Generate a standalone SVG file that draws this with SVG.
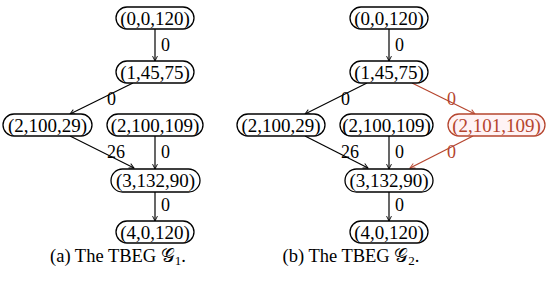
<svg xmlns="http://www.w3.org/2000/svg" width="550" height="281" viewBox="0 0 550 281">
<style>
text{font-family:"Liberation Serif","DejaVu Serif",serif;font-size:19px;fill:#000}
.n rect{fill:#fff;stroke:#000;stroke-width:1.3}
.n text{text-anchor:middle}
.r rect{fill:#fff3f5;stroke:#b5452e}
.r text{fill:#b5452e}
.e line{stroke:#000;stroke-width:1.2;marker-end:url(#ah)}
.e line.red{stroke:#b5452e;marker-end:url(#ahr)}
.lbl{font-size:18px}
.lbl.red{fill:#b5452e}
.cap{font-size:18.5px;text-anchor:middle}
</style>
<defs>
<marker id="ah" viewBox="0 0 10 10" refX="9" refY="5" markerWidth="7" markerHeight="7" orient="auto" markerUnits="userSpaceOnUse">
<path d="M2,1.5 L9,5 L2,8.5" fill="none" stroke="#000" stroke-width="1.3"/>
</marker>
<marker id="ahr" viewBox="0 0 10 10" refX="9" refY="5" markerWidth="7" markerHeight="7" orient="auto" markerUnits="userSpaceOnUse">
<path d="M2,1.5 L9,5 L2,8.5" fill="none" stroke="#b5452e" stroke-width="1.3"/>
</marker>
</defs>

<g id="connectors" class="e">
<line x1="155" y1="29" x2="155" y2="61"/>
<line x1="133" y1="83" x2="70" y2="114"/>
<line x1="70" y1="136" x2="134" y2="168"/>
<line x1="155" y1="136" x2="155" y2="169"/>
<line x1="155" y1="192" x2="155" y2="221"/>
<line x1="389" y1="29" x2="389" y2="61"/>
<line x1="367" y1="83" x2="305" y2="114"/>
<line class="red" x1="412" y1="83" x2="475" y2="114"/>
<line x1="305" y1="136" x2="368" y2="168"/>
<line x1="389" y1="136" x2="389" y2="169"/>
<line class="red" x1="473" y1="136" x2="410" y2="168"/>
<line x1="389" y1="192" x2="389" y2="221"/>
</g>

<g id="edge-labels">
<text class="lbl" x="161" y="51">0</text>
<text class="lbl" x="107" y="105">0</text>
<text class="lbl" x="107" y="158">26</text>
<text class="lbl" x="161" y="158">0</text>
<text class="lbl" x="161" y="211">0</text>
<text class="lbl" x="395" y="51">0</text>
<text class="lbl" x="341" y="105">0</text>
<text class="lbl red" x="447" y="105">0</text>
<text class="lbl" x="341" y="158">26</text>
<text class="lbl" x="395" y="158">0</text>
<text class="lbl red" x="447" y="158">0</text>
<text class="lbl" x="395" y="211">0</text>
</g>

<g id="a-n0" class="n"><rect x="116" y="7" width="78" height="22" rx="11"/><text x="155" y="24.5">(0,0,120)</text></g>
<g id="a-n1" class="n"><rect x="116" y="61" width="78" height="22" rx="11"/><text x="155" y="78.5">(1,45,75)</text></g>
<g id="a-n2a" class="n"><rect x="3" y="114" width="89" height="22" rx="11"/><text x="47.5" y="131.5">(2,100,29)</text></g>
<g id="a-n2b" class="n"><rect x="107" y="114" width="96" height="22" rx="11"/><text x="155" y="131.5">(2,100,109)</text></g>
<g id="a-n3" class="n"><rect x="111" y="169" width="89" height="23" rx="11.5"/><text x="155.5" y="187">(3,132,90)</text></g>
<g id="a-n4" class="n"><rect x="116" y="221" width="78" height="22" rx="11"/><text x="155" y="238.5">(4,0,120)</text></g>

<g id="b-n0" class="n"><rect x="350" y="7" width="78" height="22" rx="11"/><text x="389" y="24.5">(0,0,120)</text></g>
<g id="b-n1" class="n"><rect x="350" y="61" width="78" height="22" rx="11"/><text x="389" y="78.5">(1,45,75)</text></g>
<g id="b-n2a" class="n"><rect x="237" y="114" width="88" height="22" rx="11"/><text x="281" y="131.5">(2,100,29)</text></g>
<g id="b-n2b" class="n"><rect x="340" y="114" width="93" height="22" rx="11"/><text x="386.5" y="131.5">(2,100,109)</text></g>
<g id="b-n2c" class="n r"><rect x="448" y="114" width="97" height="22" rx="11"/><text x="496.5" y="131.5">(2,101,109)</text></g>
<g id="b-n3" class="n"><rect x="345" y="169" width="88" height="23" rx="11.5"/><text x="389" y="187">(3,132,90)</text></g>
<g id="b-n4" class="n"><rect x="350" y="221" width="78" height="22" rx="11"/><text x="389" y="238.5">(4,0,120)</text></g>

<g id="captions">
<text class="cap" x="118" y="262">(a) The TBEG <tspan font-family="DejaVu Sans,serif">𝒢</tspan><tspan font-size="13" dy="3">1</tspan><tspan dy="-3">.</tspan></text>
<text class="cap" x="351" y="262">(b) The TBEG <tspan font-family="DejaVu Sans,serif">𝒢</tspan><tspan font-size="13" dy="3">2</tspan><tspan dy="-3">.</tspan></text>
</g>
</svg>
